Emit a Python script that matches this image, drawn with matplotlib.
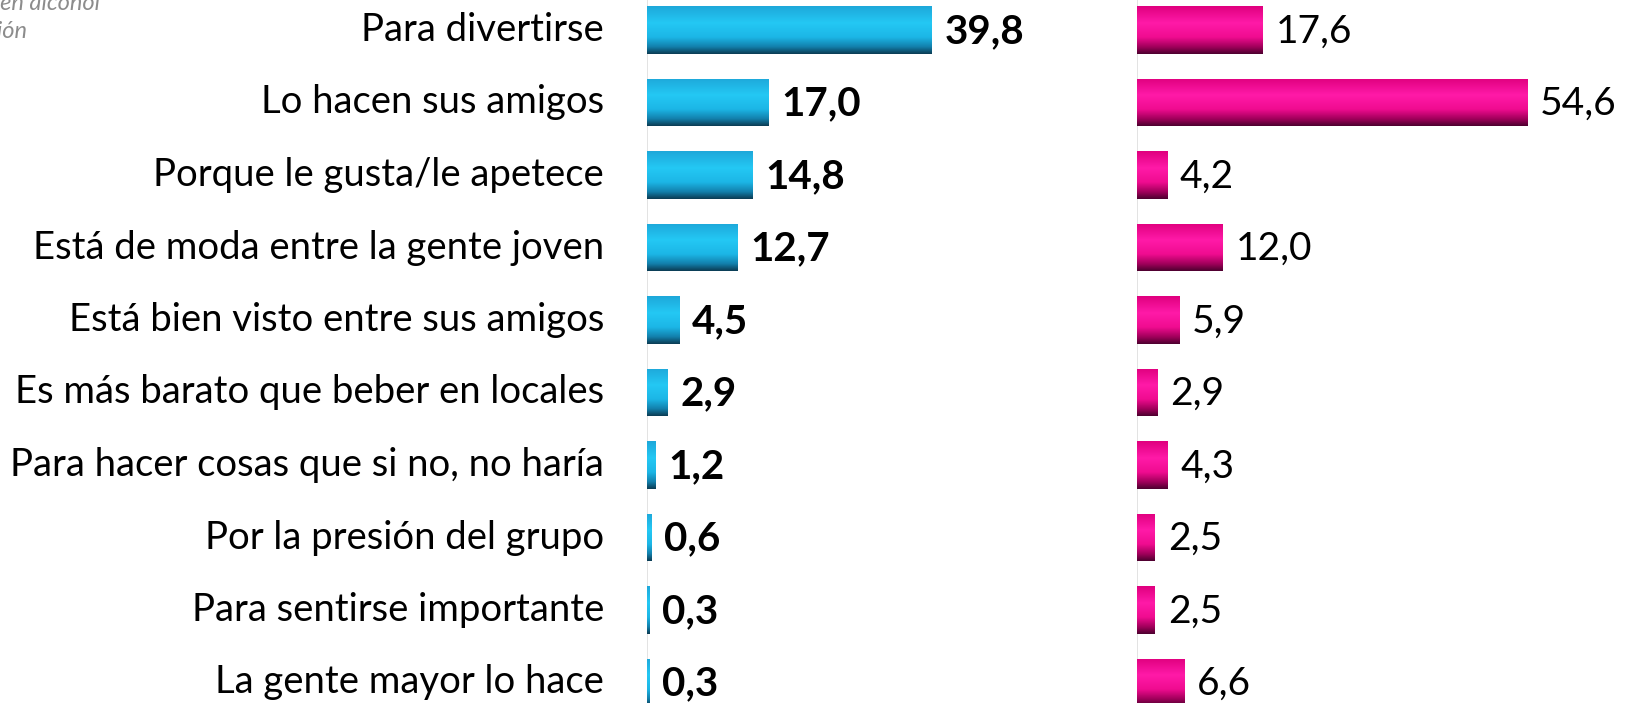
import numpy as np
import matplotlib.pyplot as plt
from matplotlib.colors import LinearSegmentedColormap

plt.rcParams['font.family'] = ['Lato', 'DejaVu Sans']

# data
categories = ['Para divertirse', 'Lo hacen sus amigos', 'Porque le gusta/le apetece',
              'Está de moda entre la gente joven', 'Está bien visto entre sus amigos',
              'Es más barato que beber en locales', 'Para hacer cosas que si no, no haría',
              'Por la presión del grupo', 'Para sentirse importante', 'La gente mayor lo hace']
blue_vals = [39.8, 17.0, 14.8, 12.7, 4.5, 2.9, 1.2, 0.6, 0.3, 0.3]
pink_vals = [17.6, 54.6, 4.2, 12.0, 5.9, 2.9, 4.3, 2.5, 2.5, 6.6]

W, H = 1633, 703
fig = plt.figure(figsize=(W / 100, H / 100), dpi=100)

row0, step = 30, 72.5
ymin = -row0 / step
ymax = (H - row0) / step
px_per_unit = 7.15
bar_h = 0.65

blue_cmap = LinearSegmentedColormap.from_list(
    'b', [(0, '#1ea8da'), (0.35, '#24c8f4'), (0.65, '#1cb6e6'),
          (0.85, '#1381ad'), (1, '#0b3d55')])
pink_cmap = LinearSegmentedColormap.from_list(
    'p', [(0, '#e0007f'), (0.35, '#ff1aa8'), (0.65, '#f00c90'),
          (0.85, '#a3005c'), (1, '#4f0030')])


def panel(x0, x1, vals, cmap, bold, fs):
    ax = fig.add_axes([x0 / W, 0, (x1 - x0) / W, 1])
    ax.set_xlim(0, (x1 - x0) / px_per_unit)
    ax.set_ylim(ymax, ymin)
    ax.axis('off')
    ax.axvline(0, color='#dedede', lw=1.2, zorder=0)
    y = np.arange(len(vals))
    bars = ax.barh(y, vals, height=bar_h, color='none', edgecolor='none')
    grad = np.linspace(0, 1, 100).reshape(-1, 1)
    for b, v in zip(bars, vals):
        yc = b.get_y() + bar_h / 2
        im = ax.imshow(grad, cmap=cmap, aspect='auto', origin='upper',
                       extent=[0, v, yc + bar_h / 2, yc - bar_h / 2], zorder=2)
        im.set_clip_path(b)
        ax.text(v + 1.8, yc + 0.02, f'{v:.1f}'.replace('.', ','),
                va='center', ha='left', fontsize=fs,
                fontweight='bold' if bold else 'normal', color='black')
    ax.set_ylim(ymax, ymin)
    return ax


panel(647, 1100, blue_vals, blue_cmap, True, 29)
panel(1137, 1633, pink_vals, pink_cmap, False, 28)

# category labels
for i, c in enumerate(categories):
    yc = 1 - (row0 + step * i) / H
    fig.text(604 / W, yc, c, ha='right', va='center', fontsize=27.5)

# cropped italic subtitle in the corner
fig.text(100 / W, 1 - 3 / H, 'Motivos por los que los jóvenes consumen alcohol',
         ha='right', va='center', fontsize=17, style='italic', color='#8c8c8c')
fig.text(27 / W, 1 - 32 / H, 'en opinión',
         ha='right', va='center', fontsize=17, style='italic', color='#8c8c8c')

fig.savefig('out.png', dpi=100)
